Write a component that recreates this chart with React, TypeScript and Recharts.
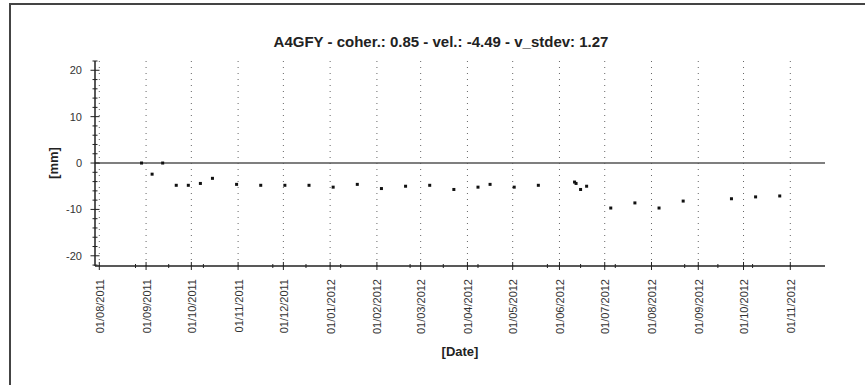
import { ReferenceLine, Scatter, ScatterChart, XAxis, YAxis } from "recharts";

// acquisition dates and displacement values [mm]
const dates = [
  "29/08/2011", "05/09/2011", "12/09/2011", "21/09/2011", "29/09/2011",
  "07/10/2011", "15/10/2011", "31/10/2011", "16/11/2011", "02/12/2011",
  "18/12/2011", "03/01/2012", "19/01/2012", "04/02/2012", "20/02/2012",
  "07/03/2012", "23/03/2012", "08/04/2012", "16/04/2012", "02/05/2012",
  "18/05/2012", "11/06/2012", "12/06/2012", "15/06/2012", "19/06/2012",
  "05/07/2012", "21/07/2012", "06/08/2012", "22/08/2012", "23/09/2012",
  "09/10/2012", "25/10/2012",
];
const values = [
  0.0, -2.4, 0.0, -4.8, -4.8,
  -4.4, -3.3, -4.6, -4.8, -4.8,
  -4.8, -5.2, -4.6, -5.5, -5.0,
  -4.8, -5.7, -5.2, -4.6, -5.2,
  -4.8, -4.1, -4.4, -5.7, -5.0,
  -9.7, -8.6, -9.7, -8.2, -7.7,
  -7.3, -7.1,
];

const monthTicks = [
  "01/08/2011", "01/09/2011", "01/10/2011", "01/11/2011", "01/12/2011",
  "01/01/2012", "01/02/2012", "01/03/2012", "01/04/2012", "01/05/2012",
  "01/06/2012", "01/07/2012", "01/08/2012", "01/09/2012", "01/10/2012",
  "01/11/2012",
];
const minorTicks = [
  "25/08/2011", "16/09/2011", "09/10/2011", "24/11/2011", "16/12/2011",
  "08/01/2012", "23/02/2012", "16/03/2012", "08/04/2012", "24/05/2012",
  "15/06/2012", "08/07/2012", "23/08/2012", "14/09/2012", "07/10/2012",
];
const yMajor = [-20, -10, 0, 10, 20];
const yTicks = [
  -22, -20, -18, -16, -14, -12, -10, -8, -6, -4, -2, 0,
  2, 4, 6, 8, 10, 12, 14, 16, 18, 20, 22,
];

const toDay = (s: string) => {
  const [d, m, y] = s.split("/").map(Number);
  return Date.UTC(y, m - 1, d) / 86400000;
};
const fmtDay = (v: number) => {
  const dt = new Date(v * 86400000);
  const dd = String(dt.getUTCDate()).padStart(2, "0");
  const mm = String(dt.getUTCMonth() + 1).padStart(2, "0");
  return `${dd}/${mm}/${dt.getUTCFullYear()}`;
};

const points = dates.map((d, i) => ({ x: toDay(d), y: values[i] }));
const majorDays = monthTicks.map(toDay);
const xTickValues = [...majorDays, ...minorTicks.map(toDay)].sort((a, b) => a - b);
const xDomain = [toDay("01/08/2011") - 2.85, toDay("01/11/2012") + 23];

const AXIS = "#222";
const LABEL = "#333";
const FONT = "'Liberation Sans', Arial, sans-serif";

function BottomTick({ x, y, payload }: any) {
  const major = majorDays.includes(payload.value);
  const h = major ? 4 : 2;
  return (
    <g>
      <line x1={x} x2={x} y1={y - h} y2={y + h} stroke={AXIS} />
      {major && (
        <text
          x={x + 4.5}
          y={y + 13}
          transform={`rotate(-90 ${x + 4.5} ${y + 13})`}
          textAnchor="end"
          fontSize={11}
          fontFamily={FONT}
          fill={LABEL}
        >
          {fmtDay(payload.value)}
        </text>
      )}
    </g>
  );
}

function TopTick({ x, y, payload }: any) {
  const major = majorDays.includes(payload.value);
  return <line x1={x} x2={x} y1={y} y2={y + (major ? 4 : 3)} stroke={AXIS} />;
}

function LeftTick({ x, y, payload }: any) {
  const major = yMajor.includes(payload.value);
  const w = major ? 4.5 : 2.5;
  return (
    <g>
      <line x1={x - w} x2={x + w} y1={y} y2={y} stroke={AXIS} />
      {major && (
        <text
          x={x - 13}
          y={y + 4}
          textAnchor="end"
          fontSize={11}
          fontFamily={FONT}
          fill={LABEL}
        >
          {payload.value}
        </text>
      )}
    </g>
  );
}

function RightTick({ x, y, payload }: any) {
  const major = yMajor.includes(payload.value);
  return <line x1={x - (major ? 5 : 3)} x2={x} y1={y} y2={y} stroke={AXIS} />;
}

const Dot = ({ cx, cy }: any) => (
  <rect x={cx - 1.5} y={cy - 1.5} width={3} height={3} fill="#111" />
);

export default function App() {
  return (
    <div
      style={{
        position: "absolute",
        left: 0,
        top: 0,
        width: 865,
        height: 385,
        overflow: "hidden",
        background: "#fff",
      }}
    >
      {/* outer frame */}
      <div
        style={{
          position: "absolute",
          left: 9,
          top: 3,
          width: 900,
          height: 420,
          borderLeft: "2px solid #444",
          borderTop: "2px solid #444",
        }}
      />
      <div style={{ position: "absolute", left: 0, top: 0 }}>
        <ScatterChart
          width={865}
          height={385}
          margin={{ top: 61, right: 40, bottom: 0, left: 0 }}
        >
          <XAxis
            dataKey="x"
            type="number"
            domain={xDomain}
            ticks={xTickValues}
            interval={0}
            height={119}
            tickSize={0}
            tickMargin={0}
            tickLine={false}
            axisLine={{ stroke: AXIS, strokeWidth: 1.5 }}
            tick={<BottomTick />}
            allowDataOverflow
          />
          <XAxis
            xAxisId="top"
            orientation="top"
            dataKey="x"
            type="number"
            domain={xDomain}
            ticks={xTickValues}
            interval={0}
            height={0}
            tickSize={0}
            tickMargin={0}
            tickLine={false}
            axisLine={{ stroke: AXIS, strokeWidth: 1.5 }}
            tick={<TopTick />}
            allowDataOverflow
          />
          <YAxis
            dataKey="y"
            type="number"
            domain={[-22.2, 22]}
            ticks={yTicks}
            interval={0}
            width={95}
            tickSize={0}
            tickMargin={0}
            tickLine={false}
            axisLine={{ stroke: AXIS, strokeWidth: 1.5 }}
            tick={<LeftTick />}
            allowDataOverflow
          />
          <YAxis
            yAxisId="right"
            orientation="right"
            dataKey="y"
            type="number"
            domain={[-22.2, 22]}
            ticks={yTicks}
            interval={0}
            width={0}
            tickSize={0}
            tickMargin={0}
            tickLine={false}
            axisLine={{ stroke: AXIS, strokeWidth: 1.5 }}
            tick={<RightTick />}
            allowDataOverflow
          />
          {majorDays.map((d) => (
            <ReferenceLine
              key={d}
              x={d}
              stroke="#666"
              strokeDasharray="1 5"
            />
          ))}
          <ReferenceLine y={0} stroke="#555" strokeWidth={1.5} />
          <Scatter
            data={points}
            shape={<Dot />}
            isAnimationActive={false}
          />
          <Scatter
            data={points}
            xAxisId="top"
            yAxisId="right"
            shape={() => <g />}
            isAnimationActive={false}
          />
        </ScatterChart>
      </div>
      <svg
        width={865}
        height={385}
        style={{ position: "absolute", left: 0, top: 0, pointerEvents: "none" }}
      >
        <text
          x={441}
          y={47}
          textAnchor="middle"
          fontSize={15}
          fontWeight="bold"
          fontFamily={FONT}
          fill="#222"
        >
          A4GFY - coher.: 0.85 - vel.: -4.49 - v_stdev: 1.27
        </text>
        <text
          x={58}
          y={163}
          transform="rotate(-90 58 163)"
          textAnchor="middle"
          fontSize={13}
          fontWeight="bold"
          fontFamily={FONT}
          fill="#222"
        >
          [mm]
        </text>
        <text
          x={460}
          y={356}
          textAnchor="middle"
          fontSize={13}
          fontWeight="bold"
          fontFamily={FONT}
          fill="#222"
        >
          [Date]
        </text>
      </svg>
    </div>
  );
}
